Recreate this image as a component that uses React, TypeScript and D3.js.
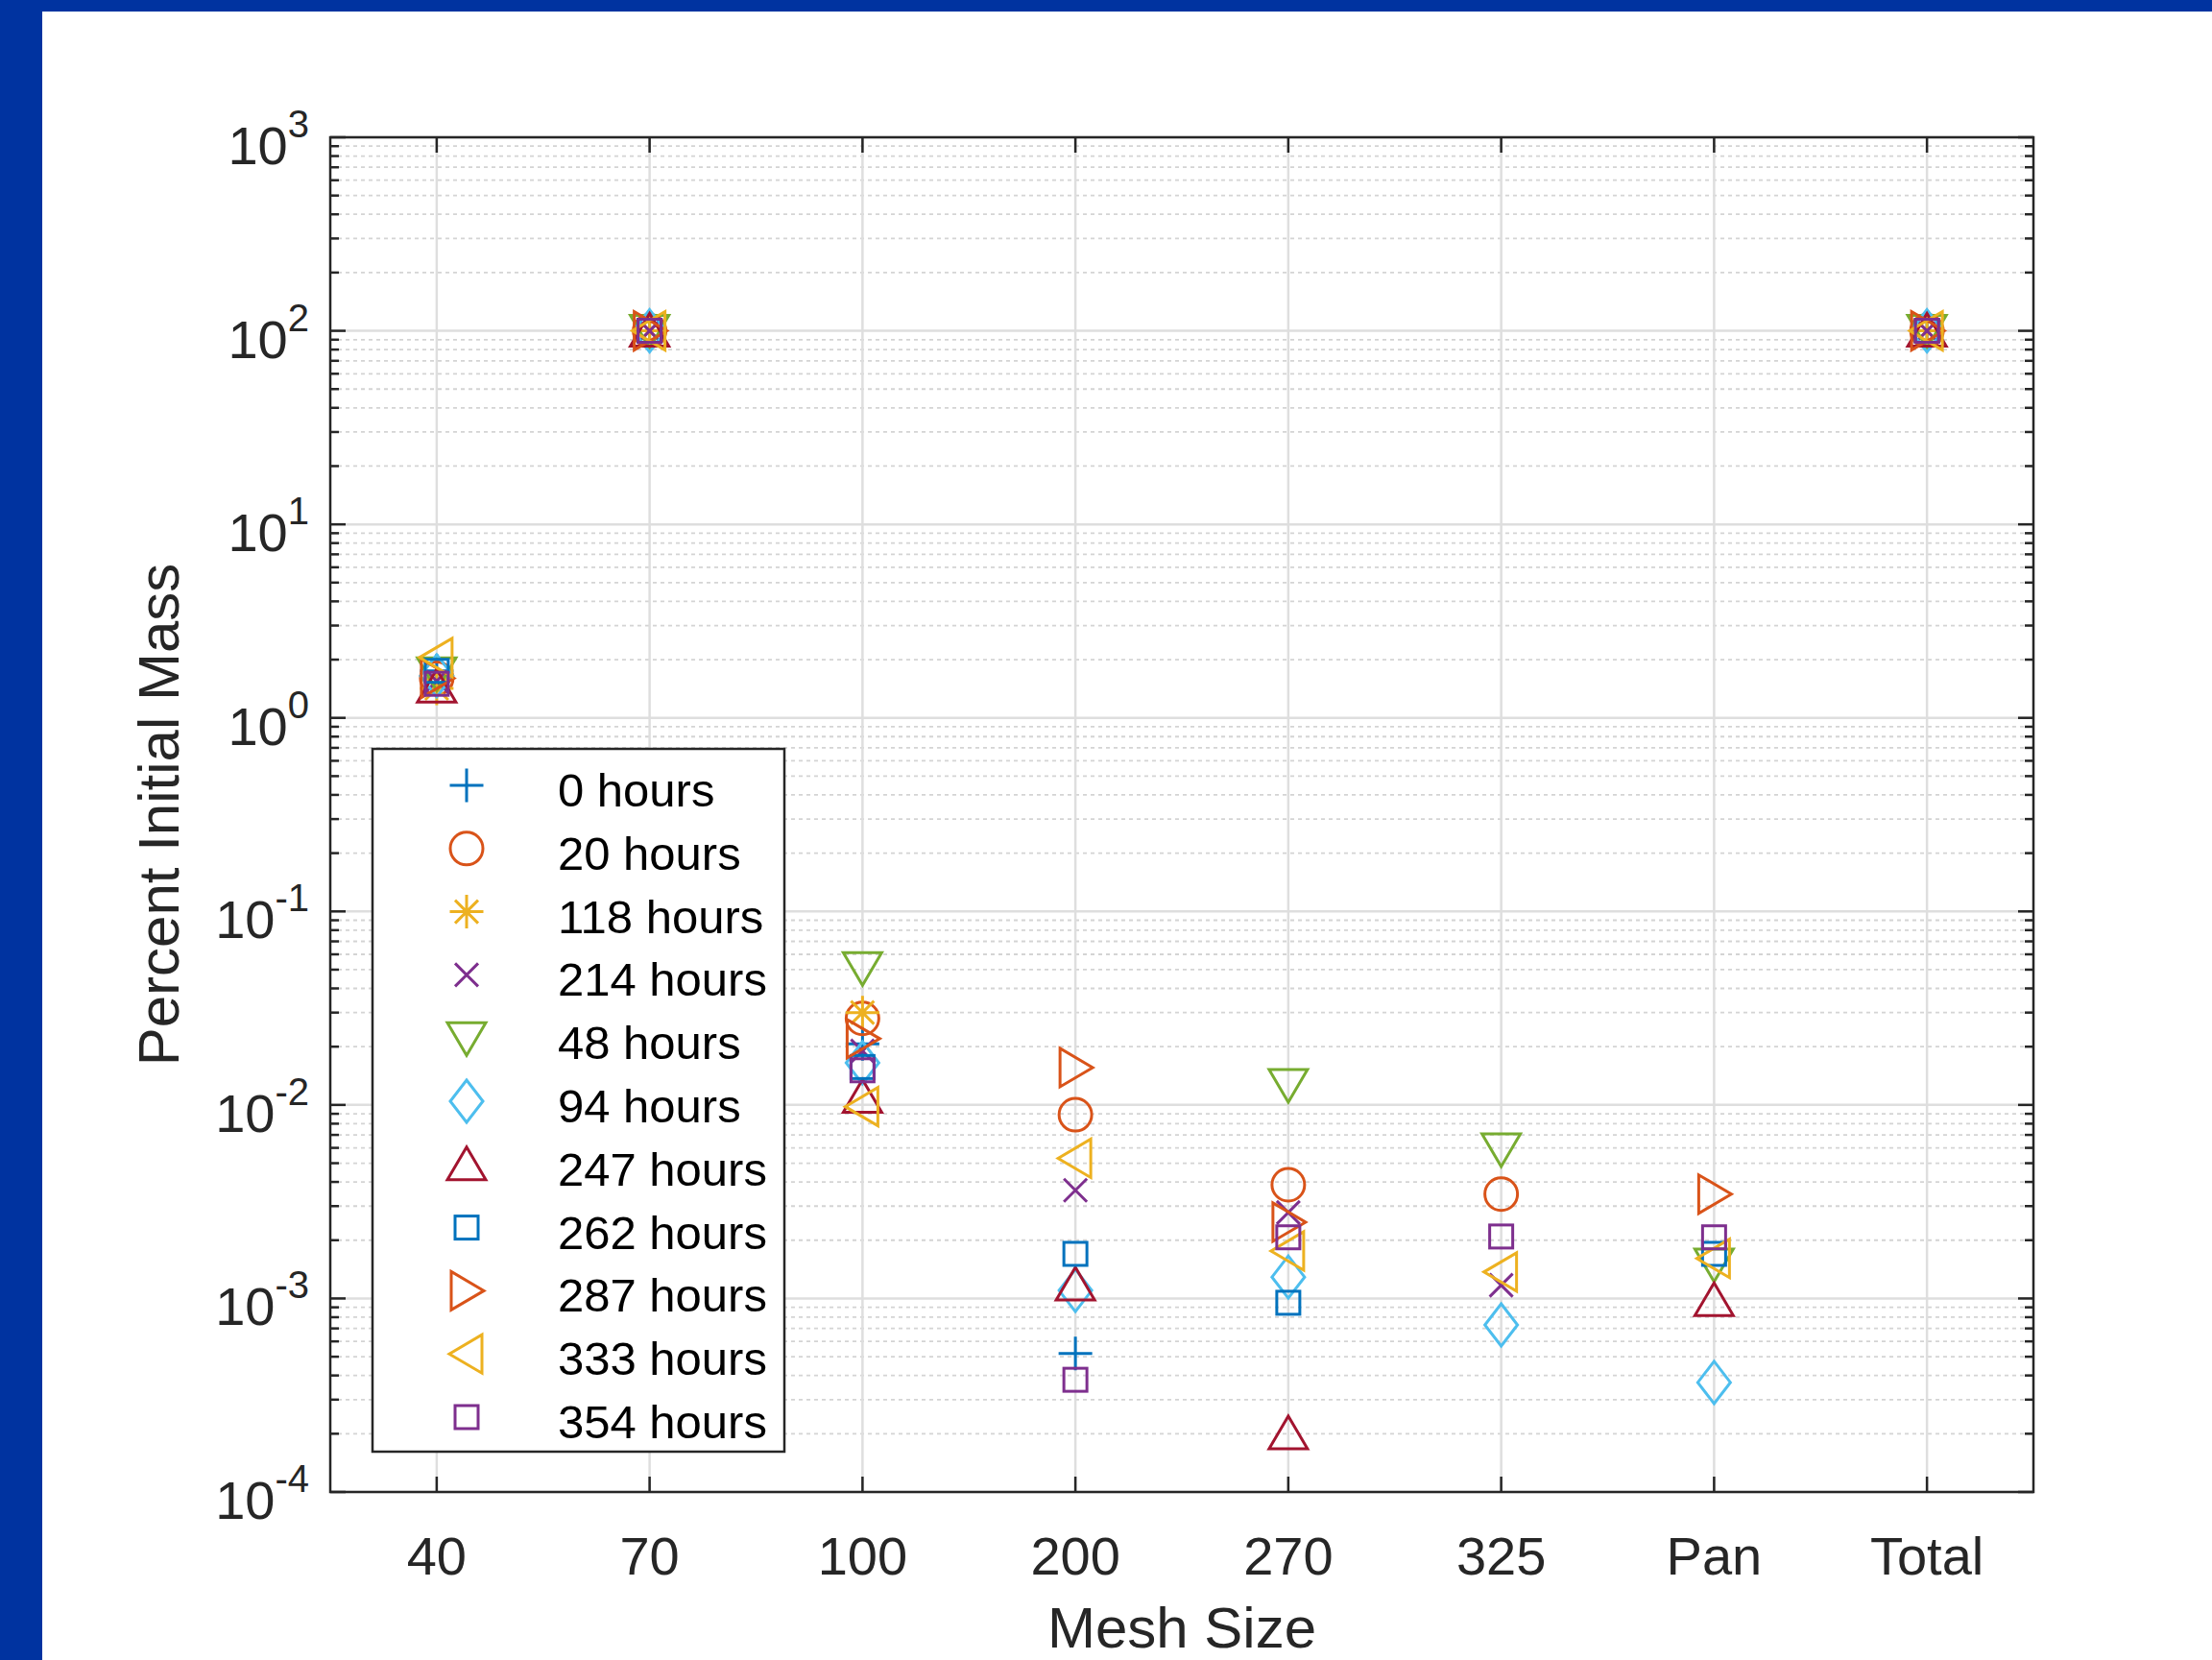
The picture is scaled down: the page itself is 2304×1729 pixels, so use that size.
import React from "react";
import * as d3 from "d3";

// mesh sizes on the x axis
const categories = ["40", "70", "100", "200", "270", "325", "Pan", "Total"];

// percent of initial mass per sample time (null = not plotted)
const h0 = [1.75, 100, 0.0207, 0.00052, null, null, null, 100];
const h20 = [1.6, 100, 0.028, 0.0089, 0.00387, 0.00346, null, 100];
const h118 = [1.42, 100, 0.03, null, null, null, null, 100];
const h214 = [1.55, 100, 0.019, 0.00362, 0.00278, 0.00117, null, 100];
const h48 = [1.7, 100, 0.051, null, 0.0127, 0.0059, 0.0015, 100];
const h94 = [1.65, 100, 0.0165, 0.0011, 0.00129, 0.00073, 0.000368, 100];
const h247 = [1.45, 100, 0.011, 0.00118, 0.000201, null, 0.00098, 100];
const h262 = [1.75, 100, 0.0157, 0.0017, 0.00095, null, 0.0017, 100];
const h287 = [1.6, 100, 0.022, 0.0156, 0.00248, null, 0.00346, 100];
const h333 = [2.05, 100, 0.0098, 0.0053, 0.00176, 0.00137, 0.00161, 100];
const h354 = [1.5, 100, 0.0151, 0.00038, 0.00207, 0.00209, 0.00207, 100];

const seriesLabels = ["0 hours", "20 hours", "118 hours", "214 hours", "48 hours", "94 hours",
  "247 hours", "262 hours", "287 hours", "333 hours", "354 hours"];
const seriesValues = [h0, h20, h118, h214, h48, h94, h247, h262, h287, h333, h354];
const seriesMarkers = ["plus", "circle", "star", "times", "down", "diamond", "up", "square", "right", "left", "square"];
const seriesColors = ["#0072BD", "#D95319", "#EDB120", "#7E2F8E", "#77AC30", "#4DBEEE",
  "#A2142F", "#0072BD", "#D95319", "#EDB120", "#7E2F8E"];

const decades = d3.range(-4, 4);

const W = 2304, H = 1729;
const left = 344, right = 2118, top = 143, bottom = 1554;
const font = "'Liberation Sans', Arial, Helvetica, sans-serif";
const ink = "#262626";

function Marker({ type, x, y, color }: { type: string; x: number; y: number; color: string }) {
  const p = { stroke: color, strokeWidth: 3, fill: "none", transform: `translate(${x},${y})` };
  switch (type) {
    case "plus":
      return <path {...p} d="M-17.5,0H17.5M0,-17.5V17.5" />;
    case "circle":
      return <circle {...p} r={17} />;
    case "star":
      return <path {...p} d="M-17.5,0H17.5M0,-17.5V17.5M-12,-12L12,12M-12,12L12,-12" />;
    case "times":
      return <path {...p} d="M-12,-12L12,12M-12,12L12,-12" />;
    case "down":
      return <path {...p} d="M-20,-16L20,-16L0,18Z" />;
    case "up":
      return <path {...p} d="M-20,16L20,16L0,-18Z" />;
    case "right":
      return <path {...p} d="M-16,-20L-16,20L18,0Z" />;
    case "left":
      return <path {...p} d="M16,-20L16,20L-18,0Z" />;
    case "diamond":
      return <path {...p} d="M0,-22L17,0L0,22L-17,0Z" />;
    case "square":
      return <rect {...p} x={-12} y={-12} width={24} height={24} />;
    default:
      return null;
  }
}

export default function App() {
  const x = d3.scalePoint<string>().domain(categories).range([left, right]).padding(0.5);
  const y = d3.scaleLog().domain([1e-4, 1e3]).range([bottom, top]);

  const minor: number[] = [];
  decades.slice(0, -1).forEach(d => d3.range(2, 10).forEach(k => minor.push(k * Math.pow(10, d))));

  return (
    <svg width={W} height={H} style={{ position: "absolute", left: 0, top: 0, display: "block" }}>
      <rect width={W} height={H} fill="#fff" />
      <rect x={0} y={0} width={W} height={12} fill="#0033A0" />
      <rect x={0} y={0} width={44} height={H} fill="#0033A0" />

      {/* grid */}
      {minor.map((v, i) => (
        <line key={"mg" + i} x1={left} x2={right} y1={y(v)} y2={y(v)}
          stroke="#D4D4D4" strokeWidth={1.8} strokeDasharray="4 4" />
      ))}
      {decades.map(d => (
        <line key={"g" + d} x1={left} x2={right} y1={y(Math.pow(10, d))} y2={y(Math.pow(10, d))}
          stroke="#DEDEDE" strokeWidth={2.5} />
      ))}
      {categories.map(c => (
        <line key={"xg" + c} x1={x(c)} x2={x(c)} y1={top} y2={bottom} stroke="#DEDEDE" strokeWidth={2.5} />
      ))}

      {/* data */}
      {seriesValues.map((vals, s) => (
        <g key={"s" + s}>
          {vals.map((v, i) => v == null ? null : (
            <Marker key={i} type={seriesMarkers[s]} x={x(categories[i])!} y={y(v)} color={seriesColors[s]} />
          ))}
        </g>
      ))}

      {/* axes box and ticks */}
      <rect x={left} y={top} width={right - left} height={bottom - top} fill="none" stroke={ink} strokeWidth={2.5} />
      {categories.map(c => (
        <g key={"xt" + c}>
          <line x1={x(c)} x2={x(c)} y1={bottom} y2={bottom - 16} stroke={ink} strokeWidth={2.5} />
          <line x1={x(c)} x2={x(c)} y1={top} y2={top + 16} stroke={ink} strokeWidth={2.5} />
          <text x={x(c)} y={1640} textAnchor="middle" fontFamily={font} fontSize={56} fill={ink}>{c}</text>
        </g>
      ))}
      {minor.map((v, i) => (
        <g key={"mt" + i}>
          <line x1={left} x2={left + 9} y1={y(v)} y2={y(v)} stroke={ink} strokeWidth={2.5} />
          <line x1={right} x2={right - 9} y1={y(v)} y2={y(v)} stroke={ink} strokeWidth={2.5} />
        </g>
      ))}
      {decades.map(d => (
        <g key={"yt" + d}>
          <line x1={left} x2={left + 16} y1={y(Math.pow(10, d))} y2={y(Math.pow(10, d))} stroke={ink} strokeWidth={2.5} />
          <line x1={right} x2={right - 16} y1={y(Math.pow(10, d))} y2={y(Math.pow(10, d))} stroke={ink} strokeWidth={2.5} />
          <text x={322} y={y(Math.pow(10, d)) + 28} textAnchor="end" fontFamily={font} fontSize={56} fill={ink}>
            10<tspan fontSize={40} dy={-28}>{d < 0 ? "-" + (-d) : d}</tspan>
          </text>
        </g>
      ))}

      {/* axis labels */}
      <text x={(left + right) / 2} y={1716} textAnchor="middle" fontFamily={font} fontSize={60} fill={ink}>Mesh Size</text>
      <text transform={`translate(186,${(top + bottom) / 2}) rotate(-90)`} textAnchor="middle"
        fontFamily={font} fontSize={60} fill={ink}>Percent Initial Mass</text>

      {/* legend */}
      <rect x={388} y={780} width={429} height={732} fill="#fff" stroke={ink} strokeWidth={2.5} />
      {seriesLabels.map((lab, s) => {
        const ry = 818 + s * 65.8;
        return (
          <g key={"l" + s}>
            <Marker type={seriesMarkers[s]} x={486} y={ry} color={seriesColors[s]} />
            <text x={581} y={ry + 22} fontFamily={font} fontSize={49} fill="#000">{lab}</text>
          </g>
        );
      })}
    </svg>
  );
}
